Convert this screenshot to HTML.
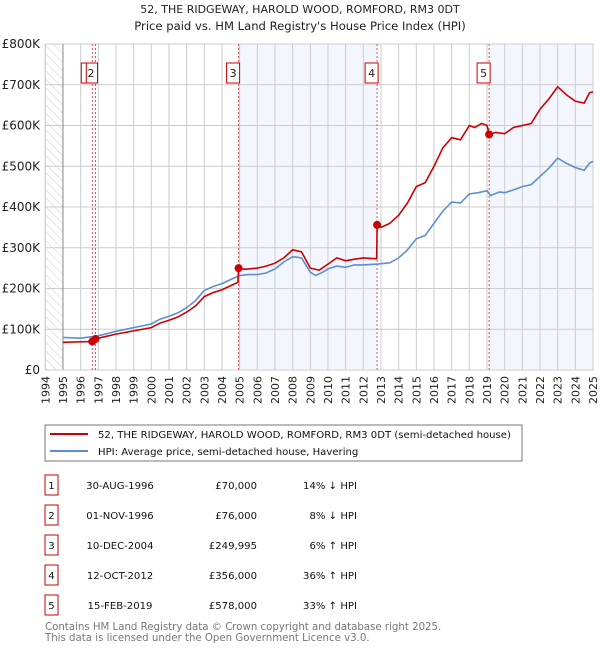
<!DOCTYPE html>
<html><head><meta charset="utf-8">
<style>
body{margin:0;background:#fff;font-family:"DejaVu Sans","Liberation Sans",sans-serif;}
svg text{font-family:"DejaVu Sans","Liberation Sans",sans-serif;}
</style></head>
<body>
<svg id="c" width="600" height="650" xmlns="http://www.w3.org/2000/svg">
<defs><pattern id="hatch" width="6" height="6" patternUnits="userSpaceOnUse" patternTransform="rotate(-45)"><line x1="0" y1="0" x2="0" y2="6" stroke="#ccc" stroke-width="1"/></pattern></defs>
<text x="300" y="13" text-anchor="middle" font-size="11" fill="#222">52, THE RIDGEWAY, HAROLD WOOD, ROMFORD, RM3 0DT</text>
<text x="300" y="30" text-anchor="middle" font-size="11.6" fill="#222">Price paid vs. HM Land Registry's House Price Index (HPI)</text>
<g id="plot"></g>
<g>
<rect x="45" y="425" width="477" height="36" fill="#fff" stroke="#777"/>
<line x1="50" y1="434" x2="88" y2="434" stroke="#cc0000" stroke-width="2"/>
<text x="98" y="438" font-size="10.1" fill="#111">52, THE RIDGEWAY, HAROLD WOOD, ROMFORD, RM3 0DT (semi-detached house)</text>
<line x1="50" y1="451" x2="88" y2="451" stroke="#5b8fd0" stroke-width="2"/>
<text x="98" y="455" font-size="10.1" fill="#111">HPI: Average price, semi-detached house, Havering</text>
</g>
<g id="table" font-size="10.1" fill="#111"></g>
<text x="45" y="630" font-size="10.2" fill="#777">Contains HM Land Registry data © Crown copyright and database right 2025.</text>
<text x="45" y="641" font-size="10.2" fill="#777">This data is licensed under the Open Government Licence v3.0.</text>
</svg>
<script>
const hpiYears=[1995,1996,1997,1998,1999,2000,2000.5,2001,2001.5,2002,2002.5,2003,2003.5,2004,2004.5,2005,2005.5,2006,2006.5,2007,2007.5,2008,2008.5,2009,2009.3,2009.7,2010,2010.5,2011,2011.5,2012,2012.8,2013.5,2014,2014.5,2015,2015.5,2016,2016.5,2017,2017.5,2018,2018.5,2019,2019.2,2019.7,2020,2020.5,2021,2021.5,2022,2022.5,2023,2023.5,2024,2024.5,2024.8,2025];
const hpiValues=[80,78,84,95,104,113,125,132,140,153,170,195,205,212,222,232,234,234,238,248,265,278,275,240,232,240,248,255,252,258,258,260,263,275,295,322,330,360,390,412,410,432,435,440,428,437,435,442,450,455,475,495,520,507,497,490,508,512];
const propYears=[1995,1996.66,1996.84,1997,1998,1999,2000,2000.5,2001,2001.5,2002,2002.5,2003,2003.5,2004,2004.5,2004.9,2004.94,2005.3,2006,2006.5,2007,2007.5,2008,2008.5,2009,2009.5,2010,2010.5,2011,2011.5,2012,2012.76,2012.78,2013,2013.5,2014,2014.5,2015,2015.5,2016,2016.5,2017,2017.5,2018,2018.3,2018.7,2019,2019.12,2019.5,2020,2020.5,2021,2021.5,2022,2022.5,2023,2023.5,2024,2024.5,2024.8,2025];
const propValues=[68,70,76,78,88,96,104,115,122,130,142,157,180,190,197,207,215,250,247,250,255,262,275,295,290,250,245,260,275,268,272,275,273,356,350,360,380,410,450,460,500,545,570,565,600,595,605,600,578,583,580,595,600,605,640,665,695,675,660,655,680,683];
const saleYears=[1996.66,1996.84,2004.94,2012.78,2019.12];
const saleValues=[70,76,249.995,356,578];
const saleLabels=["1","2","3","4","5"];
const saleDates=["30-AUG-1996","01-NOV-1996","10-DEC-2004","12-OCT-2012","15-FEB-2019"];
const salePrices=["£70,000","£76,000","£249,995","£356,000","£578,000"];
const saleHpi=["14% ↓ HPI","8% ↓ HPI","6% ↑ HPI","36% ↑ HPI","33% ↑ HPI"];
const yTicks=[0,100,200,300,400,500,600,700,800];
const yTickLabels=["£0","£100K","£200K","£300K","£400K","£500K","£600K","£700K","£800K"];
const NS="http://www.w3.org/2000/svg";
const X0=45.3,X1=593,Y0=370,Y1=44;
const x=y=>X0+(y-1994)/(2025-1994)*(X1-X0);
const yv=v=>Y0-v/800*(Y0-Y1);
const plot=document.getElementById('plot');
function mk(t,a,p){const e=document.createElementNS(NS,t);for(const k in a)e.setAttribute(k,a[k]);(p||plot).appendChild(e);return e;}
let e;
e=mk('rect',{x:x(1994),y:Y1,width:x(1995)-x(1994),height:Y0-Y1,fill:'url(#hatch)'});


const shades=[[saleYears[0],saleYears[1]],[saleYears[2],saleYears[3]],[saleYears[4],2025]];
shades.forEach(s=>{e=mk('rect',{x:x(s[0]),y:Y1,width:x(s[1])-x(s[0]),height:Y0-Y1,fill:'#eef3fc',opacity:0.7});

});
for(let yr=1994;yr<=2025;yr++){e=mk('line',{x1:x(yr),x2:x(yr),y1:Y1,y2:Y0,stroke:'#ccc','stroke-width':1});


e=mk('text',{x:0,y:0,transform:`translate(${x(yr)+4},${Y0+6}) rotate(-90)`,'text-anchor':'end','font-size':11,fill:'#222'});e.textContent=yr;

}
yTicks.forEach((v,i)=>{e=mk('line',{x1:X0,x2:X1,y1:yv(v),y2:yv(v),stroke:'#ccc','stroke-width':1});


e=mk('text',{x:40,y:yv(v)+4,'text-anchor':'end','font-size':12,fill:'#222'});e.textContent=yTickLabels[i];

});
e=mk('line',{x1:x(1995),x2:x(1995),y1:Y1,y2:Y0,stroke:'#888'});


e=mk('rect',{x:X0,y:Y1,width:X1-X0,height:Y0-Y1,fill:'none',stroke:'#ccc'});


saleYears.forEach((s,i)=>{e=mk('line',{x1:x(s),x2:x(s),y1:Y1,y2:Y0,stroke:'#e05050','stroke-width':1,'stroke-dasharray':'2,2'});

});
function path(xs,vs,col,name){e=mk('path',{d:xs.map((t,i)=>(i?'L':'M')+x(t).toFixed(1)+','+yv(vs[i]).toFixed(1)).join(''),fill:'none',stroke:col,'stroke-width':1.6});

}
path(hpiYears,hpiValues,'#5b8fd0','hpi-line');
path(propYears,propValues,'#cc0000','property-price-line');
saleYears.forEach((s,i)=>{e=mk('circle',{cx:x(s),cy:yv(saleValues[i]),r:4,fill:'#cc0000'});


if(i===0)return;
const bx=x(s)-(i===1?11:12);
e=mk('rect',{x:bx,y:63,width:13,height:20,fill:'#fff',stroke:'#cc0000'});


e=mk('text',{x:bx+6.5,y:77,'text-anchor':'middle','font-size':11,fill:'#222'});e.textContent=saleLabels[i];

});
e=mk('rect',{x:x(saleYears[0])-11,y:63,width:5,height:20,fill:'#fff',stroke:'#cc0000'});


const tb=document.getElementById('table');
saleLabels.forEach((l,i)=>{const cy=483+i*30;
e=mk('rect',{x:45,y:cy-8,width:13,height:20,fill:'#fff',stroke:'#cc0000'},tb);


e=mk('text',{x:51.5,y:cy+6,'text-anchor':'middle'},tb);e.textContent=l;


e=mk('text',{x:120,y:cy+6,'text-anchor':'middle'},tb);e.textContent=saleDates[i];


e=mk('text',{x:257,y:cy+6,'text-anchor':'end'},tb);e.textContent=salePrices[i];


e=mk('text',{x:357,y:cy+6,'text-anchor':'end'},tb);e.textContent=saleHpi[i];

});
</script>
</body></html>
